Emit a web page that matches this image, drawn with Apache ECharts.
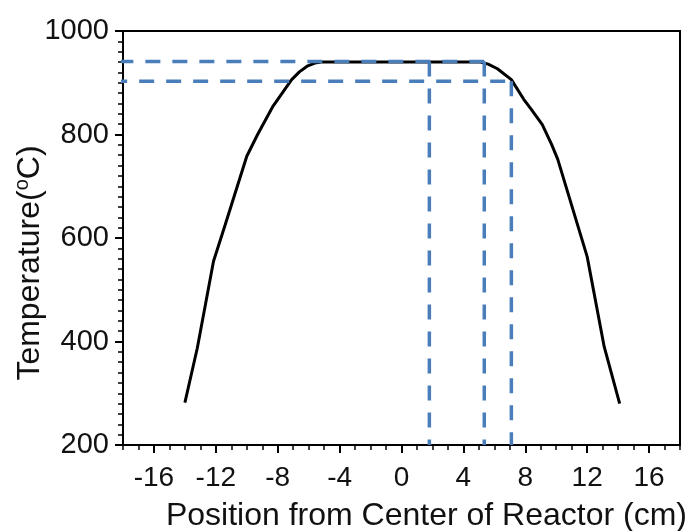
<!DOCTYPE html>
<html>
<head>
<meta charset="utf-8">
<script src="https://cdn.jsdelivr.net/npm/echarts@6/dist/echarts.min.js"></script>
<style>html,body{margin:0;padding:0;background:#fff}#c{width:691px;height:531px}</style>
</head>
<body>
<div id="c"></div>
<script>
// Temperature profile (position cm, temperature °C)
var profile = [
  [-14.0, 282], [-13.2, 387], [-12.15, 555], [-11.4, 625], [-10.0, 758],
  [-9.3, 800], [-8.3, 855], [-7.1, 906], [-6.6, 921], [-6.1, 932], [-5.6, 938], [-5.2, 940],
  [5.1, 940], [5.6, 936], [6.2, 927], [7.1, 906], [7.9, 868], [8.4, 848], [9.1, 819],
  [9.7, 781], [10.1, 752], [12.0, 564], [13.1, 390], [14.1, 280]
];
// Dashed guide lines
var guideTop = [[-18.3, 941], [5.35, 941]];
var guideLow = [[-18.7, 903], [7.1, 903]];
var guideV1 = [[1.8, 941], [1.8, 200]];
var guideV2 = [[5.35, 941], [5.35, 200]];
var guideV3 = [[7.1, 903], [7.1, 200]];
var xMajorTicks = [-16, -12, -8, -4, 0, 4, 8, 12, 16];
var yTicks = [200, 400, 600, 800, 1000];

var FONT = 'Liberation Sans';
var blue = '#4a7ebb';
function dashed(data) {
  return {
    type: 'line', data: data, symbol: 'none', clip: false, z: 3,
    lineStyle: { color: blue, width: 3.5, type: [15, 12] }
  };
}
var chart = echarts.init(document.getElementById('c'));
chart.setOption({
  animation: false,
  grid: { left: 123, right: 11, top: 31, bottom: 86, outerBoundsMode: 'none', containLabel: false,
          show: true, borderColor: '#000', borderWidth: 2, backgroundColor: 'transparent' },
  xAxis: [{
    type: 'value', min: -18, max: 18, interval: 1,
    name: 'Position from Center of Reactor (cm)',
    nameLocation: 'middle', nameGap: 55, nameMoveOverlap: false,
    nameTextStyle: { fontFamily: FONT, fontSize: 32, color: '#111', padding: [0, 0, 0, 50] },
    axisLine: { show: true, onZero: false, lineStyle: { color: '#000', width: 2 } },
    axisTick: { show: true, inside: false, length: 8, lineStyle: { color: '#000', width: 2 }, customValues: xMajorTicks },
    axisLabel: { fontFamily: FONT, fontSize: 28, color: '#111', margin: 19, customValues: xMajorTicks },
    splitLine: { show: false }
  }, {
    type: 'value', min: -18, max: 18, interval: 1, position: 'bottom',
    axisLine: { show: false, onZero: false },
    axisTick: { show: true, length: 5, lineStyle: { color: '#000', width: 1.5 } },
    axisLabel: { show: false },
    splitLine: { show: false }
  }],
  yAxis: {
    type: 'value', min: 200, max: 1000, interval: 200,
    name: '{n|Temperature(}{s|o}{n|C)}',
    nameLocation: 'middle', nameGap: 75, nameRotate: 90, nameMoveOverlap: false,
    nameTextStyle: {
      padding: [0, 50, 0, 0],
      rich: {
        n: { fontFamily: FONT, fontSize: 32, lineHeight: 36, color: '#111' },
        s: { fontFamily: FONT, fontSize: 20, lineHeight: 20, color: '#111', verticalAlign: 'top' }
      }
    },
    axisLine: { show: true, onZero: false, lineStyle: { color: '#000', width: 2 } },
    axisTick: { show: true, length: 8, lineStyle: { color: '#000', width: 2 } },
    minorTick: { show: true, splitNumber: 10, length: 5, lineStyle: { color: '#000', width: 1.5 } },
    axisLabel: { fontFamily: FONT, fontSize: 29, color: '#111', margin: 14,
                 formatter: function (v) { return String(v); } },
    splitLine: { show: false }
  },
  series: [
    { type: 'line', data: profile, symbol: 'none', z: 2, lineStyle: { color: '#000', width: 3 } },
    dashed(guideTop), dashed(guideLow), dashed(guideV1), dashed(guideV2), dashed(guideV3)
  ]
});
</script>
</body>
</html>
